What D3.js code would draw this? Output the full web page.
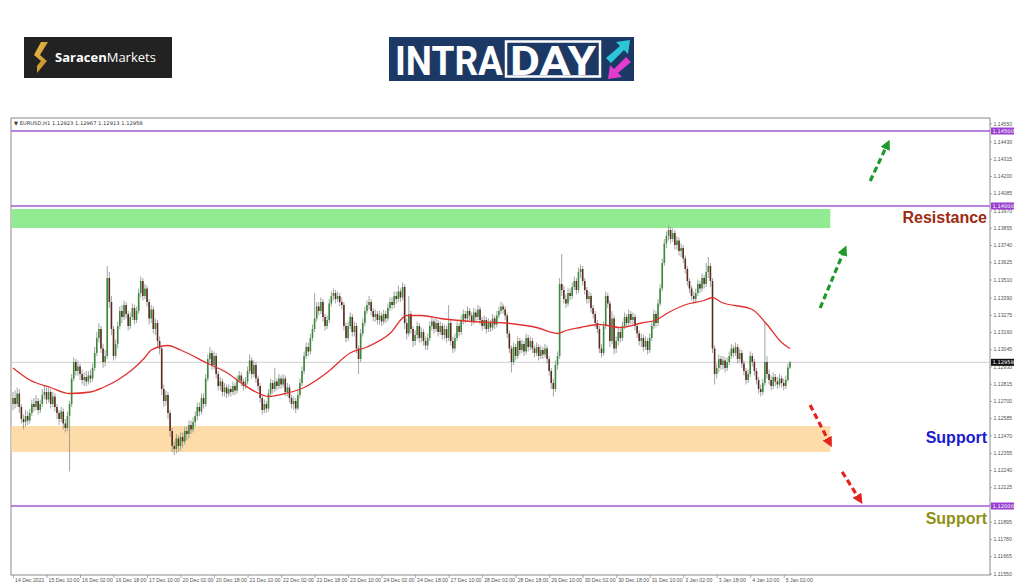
<!DOCTYPE html>
<html>
<head>
<meta charset="utf-8">
<script src="https://cdnjs.cloudflare.com/ajax/libs/d3/7.8.5/d3.min.js"></script>
<style>
  body { margin: 0; background: #fff; }
  svg { display: block; font-family: "DejaVu Sans", "Liberation Sans", sans-serif; }
  .axis text { font-size: 5.2px; fill: #555; }
  .axis path, .axis line { stroke: #777; stroke-width: 0.6; }
</style>
</head>
<body>
<div id="chart"></div>
<script>
// EURUSD H1, 14 Dec 2021 -> 5 Jan 2022
var firstOpen = 1.1268;
var closes = [
  1.1272,1.1268,1.1275,1.1266,1.1258,1.1256,1.1260,1.1257,1.1262,1.1268,1.1266,1.1270,1.1264,1.1268,1.1274,1.1276,
  1.1271,1.1276,1.1268,1.1273,1.1266,1.1262,1.1258,1.1263,1.1255,1.1252,1.1260,1.1268,1.1285,1.1296,1.1290,1.1293,
  1.1288,1.1284,1.1286,1.1283,1.1287,1.1285,1.1292,1.1302,1.1312,1.1318,1.1305,1.1296,1.1300,1.1352,1.1336,1.1318,
  1.1300,1.1308,1.1320,1.1330,1.1326,1.1334,1.1328,1.1320,1.1326,1.1332,1.1324,1.1330,1.1342,1.1350,1.1340,1.1345,
  1.1336,1.1325,1.1331,1.1318,1.1322,1.1310,1.1305,1.1278,1.1270,1.1274,1.1262,1.1250,1.1240,1.1238,1.1245,1.1240,
  1.1246,1.1243,1.1250,1.1248,1.1254,1.1251,1.1256,1.1260,1.1266,1.1263,1.1272,1.1268,1.1285,1.1298,1.1302,1.1294,
  1.1300,1.1288,1.1280,1.1283,1.1276,1.1279,1.1275,1.1278,1.1276,1.1280,1.1277,1.1284,1.1287,1.1283,1.1280,1.1283,
  1.1290,1.1297,1.1288,1.1294,1.1285,1.1280,1.1272,1.1264,1.1268,1.1265,1.1275,1.1282,1.1278,1.1283,1.1280,1.1285,
  1.1281,1.1285,1.1276,1.1279,1.1272,1.1268,1.1270,1.1265,1.1274,1.1282,1.1290,1.1300,1.1306,1.1303,1.1312,1.1318,
  1.1325,1.1333,1.1330,1.1336,1.1326,1.1320,1.1324,1.1335,1.1340,1.1342,1.1338,1.1340,1.1336,1.1334,1.1320,1.1312,
  1.1320,1.1326,1.1316,1.1320,1.1305,1.1298,1.1315,1.1322,1.1330,1.1334,1.1336,1.1330,1.1326,1.1328,1.1324,1.1327,
  1.1323,1.1328,1.1325,1.1332,1.1336,1.1334,1.1340,1.1338,1.1343,1.1339,1.1346,1.1322,1.1315,1.1328,1.1318,1.1310,
  1.1314,1.1320,1.1312,1.1316,1.1310,1.1307,1.1312,1.1320,1.1323,1.1318,1.1322,1.1316,1.1320,1.1314,1.1318,1.1312,
  1.1322,1.1310,1.1305,1.1312,1.1320,1.1316,1.1324,1.1328,1.1325,1.1330,1.1327,1.1323,1.1329,1.1326,1.1331,1.1324,
  1.1320,1.1324,1.1318,1.1322,1.1319,1.1325,1.1321,1.1327,1.1330,1.1333,1.1331,1.1327,1.1315,1.1305,1.1296,1.1306,
  1.1300,1.1310,1.1304,1.1308,1.1303,1.1312,1.1306,1.1310,1.1305,1.1302,1.1306,1.1300,1.1304,1.1301,1.1305,1.1298,
  1.1290,1.1282,1.1278,1.1294,1.1300,1.1348,1.1344,1.1338,1.1335,1.1342,1.1340,1.1346,1.1350,1.1344,1.1356,1.1358,
  1.1350,1.1344,1.1338,1.1340,1.1332,1.1328,1.1322,1.1318,1.1305,1.1302,1.1320,1.1340,1.1335,1.1310,1.1325,1.1305,
  1.1310,1.1316,1.1312,1.1320,1.1326,1.1322,1.1328,1.1324,1.1326,1.1320,1.1315,1.1310,1.1312,1.1306,1.1310,1.1304,
  1.1312,1.1320,1.1328,1.1322,1.1335,1.1345,1.1362,1.1375,1.1380,1.1384,1.1378,1.1382,1.1374,1.1377,1.1370,1.1372,
  1.1365,1.1358,1.1350,1.1345,1.1340,1.1338,1.1342,1.1348,1.1345,1.1352,1.1348,1.1356,1.1360,1.1350,1.1305,1.1288,
  1.1292,1.1298,1.1294,1.1297,1.1292,1.1296,1.1300,1.1305,1.1302,1.1306,1.1298,1.1302,1.1295,1.1290,1.1284,1.1288,
  1.1300,1.1296,1.1290,1.1284,1.1278,1.1276,1.1282,1.1296,1.1288,1.1284,1.1280,1.1286,1.1283,1.1281,1.1285,1.1282,
  1.1280,1.1284,1.12923,1.12958
];
var highs = [
  1.1276,1.1277,1.1279,1.1278,1.1268,1.1261,1.1264,1.1263,1.1265,1.1271,1.1272,1.1274,1.1272,1.1271,1.1278,1.1280,
  1.1279,1.1279,1.1278,1.1276,1.1275,1.1268,1.1264,1.1266,1.1265,1.1258,1.1263,1.1270,1.1288,1.1299,1.1298,1.1297,
  1.1295,1.1291,1.1289,1.1290,1.1290,1.1291,1.1295,1.1306,1.1316,1.1322,1.1320,1.1308,1.1304,1.1360,1.1356,1.1340,
  1.1320,1.1311,1.1323,1.1333,1.1334,1.1337,1.1336,1.1330,1.1329,1.1335,1.1334,1.1333,1.1345,1.1353,1.1352,1.1348,
  1.1347,1.1338,1.1334,1.1333,1.1325,1.1324,1.1313,1.1307,1.1281,1.1277,1.1276,1.1264,1.1252,1.1243,1.1248,1.1247,
  1.1249,1.1249,1.1253,1.1253,1.1257,1.1257,1.1259,1.1263,1.1269,1.1269,1.1275,1.1275,1.1288,1.1301,1.1306,1.1304,
  1.1303,1.1302,1.1290,1.1286,1.1285,1.1282,1.1281,1.1281,1.1280,1.1283,1.1282,1.1287,1.1290,1.1289,1.1285,1.1286,
  1.1293,1.1301,1.1299,1.1297,1.1296,1.1287,1.1282,1.1274,1.1271,1.1270,1.1278,1.1285,1.1284,1.1292,1.1285,1.1288,
  1.1287,1.1288,1.1287,1.1282,1.1281,1.1274,1.1273,1.1272,1.1277,1.1285,1.1293,1.1303,1.1309,1.1309,1.1315,1.1321,
  1.1342,1.1336,1.1336,1.1339,1.1338,1.1328,1.1327,1.1338,1.1343,1.1345,1.1344,1.1343,1.1342,1.1339,1.1336,1.1322,
  1.1323,1.1329,1.1328,1.1323,1.1322,1.1307,1.1318,1.1325,1.1333,1.1337,1.1340,1.1338,1.1332,1.1331,1.1330,1.1330,
  1.1329,1.1331,1.1330,1.1335,1.1339,1.1339,1.1343,1.1343,1.1347,1.1345,1.1349,1.1348,1.1325,1.1340,1.1330,1.1320,
  1.1317,1.1323,1.1322,1.1319,1.1318,1.1313,1.1315,1.1323,1.1326,1.1325,1.1325,1.1324,1.1323,1.1322,1.1321,1.1320,
  1.1334,1.1324,1.1313,1.1315,1.1323,1.1322,1.1327,1.1331,1.1330,1.1333,1.1332,1.1329,1.1332,1.1331,1.1334,1.1333,
  1.1326,1.1327,1.1326,1.1325,1.1324,1.1328,1.1327,1.1330,1.1333,1.1336,1.1335,1.1333,1.1329,1.1317,1.1307,1.1309,
  1.1308,1.1313,1.1312,1.1311,1.1310,1.1315,1.1314,1.1313,1.1312,1.1307,1.1309,1.1308,1.1307,1.1306,1.1308,1.1307,
  1.1300,1.1292,1.1285,1.1297,1.1303,1.1352,1.1368,1.1347,1.1341,1.1345,1.1345,1.1349,1.1353,1.1352,1.1359,1.1361,
  1.1360,1.1352,1.1346,1.1343,1.1342,1.1334,1.1330,1.1324,1.1320,1.1308,1.1323,1.1343,1.1342,1.1337,1.1330,1.1327,
  1.1313,1.1319,1.1318,1.1323,1.1329,1.1328,1.1331,1.1330,1.1329,1.1328,1.1322,1.1317,1.1315,1.1314,1.1313,1.1312,
  1.1315,1.1323,1.1331,1.1330,1.1338,1.1348,1.1365,1.1378,1.1383,1.1387,1.1386,1.1385,1.1384,1.1380,1.1379,1.1375,
  1.1374,1.1367,1.1360,1.1352,1.1347,1.1343,1.1345,1.1351,1.1350,1.1355,1.1354,1.1362,1.1366,1.1362,1.1352,1.1307,
  1.1295,1.1301,1.1300,1.1300,1.1299,1.1299,1.1303,1.1308,1.1307,1.1309,1.1308,1.1305,1.1304,1.1297,1.1292,1.1291,
  1.1303,1.1302,1.1298,1.1292,1.1286,1.1281,1.1285,1.1323,1.1300,1.1291,1.1287,1.1289,1.1288,1.1286,1.1288,1.1287,
  1.1285,1.1287,1.1295,1.12967
];
var lows = [
  1.1264,1.1265,1.1266,1.1262,1.1255,1.1251,1.1253,1.1254,1.1255,1.1260,1.1263,1.1264,1.1261,1.1262,1.1266,1.1271,
  1.1268,1.1269,1.1265,1.1266,1.1263,1.1258,1.1254,1.1256,1.1251,1.1249,1.1250,1.1223,1.1266,1.1283,1.1287,1.1287,
  1.1284,1.1281,1.1280,1.1280,1.1281,1.1282,1.1283,1.1290,1.1300,1.1309,1.1302,1.1292,1.1293,1.1298,1.1332,1.1314,
  1.1297,1.1298,1.1305,1.1318,1.1322,1.1324,1.1325,1.1317,1.1318,1.1324,1.1321,1.1322,1.1328,1.1339,1.1337,1.1338,
  1.1333,1.1321,1.1322,1.1315,1.1314,1.1306,1.1301,1.1274,1.1266,1.1267,1.1258,1.1246,1.1236,1.1234,1.1235,1.1236,
  1.1237,1.1239,1.1241,1.1244,1.1245,1.1248,1.1249,1.1253,1.1257,1.1260,1.1261,1.1265,1.1266,1.1283,1.1295,1.1291,
  1.1291,1.1285,1.1277,1.1277,1.1273,1.1273,1.1272,1.1273,1.1273,1.1274,1.1274,1.1275,1.1282,1.1280,1.1277,1.1278,
  1.1281,1.1288,1.1285,1.1286,1.1282,1.1277,1.1269,1.1261,1.1262,1.1262,1.1263,1.1273,1.1275,1.1276,1.1277,1.1278,
  1.1278,1.1279,1.1273,1.1273,1.1269,1.1265,1.1264,1.1262,1.1264,1.1272,1.1280,1.1288,1.1298,1.1300,1.1301,1.1310,
  1.1316,1.1323,1.1327,1.1328,1.1323,1.1317,1.1318,1.1322,1.1333,1.1337,1.1335,1.1336,1.1333,1.1331,1.1317,1.1309,
  1.1310,1.1318,1.1313,1.1313,1.1302,1.1288,1.1296,1.1313,1.1320,1.1328,1.1331,1.1327,1.1323,1.1323,1.1321,1.1321,
  1.1320,1.1321,1.1322,1.1323,1.1330,1.1331,1.1332,1.1335,1.1336,1.1336,1.1337,1.1318,1.1311,1.1313,1.1315,1.1306,
  1.1307,1.1311,1.1309,1.1309,1.1307,1.1304,1.1304,1.1310,1.1317,1.1315,1.1316,1.1313,1.1314,1.1311,1.1311,1.1309,
  1.1310,1.1307,1.1302,1.1303,1.1310,1.1313,1.1314,1.1321,1.1322,1.1323,1.1324,1.1320,1.1321,1.1323,1.1324,1.1321,
  1.1317,1.1318,1.1315,1.1316,1.1316,1.1317,1.1318,1.1319,1.1325,1.1328,1.1328,1.1324,1.1312,1.1302,1.1289,1.1294,
  1.1297,1.1298,1.1301,1.1302,1.1300,1.1301,1.1303,1.1304,1.1302,1.1299,1.1300,1.1297,1.1298,1.1298,1.1299,1.1295,
  1.1287,1.1278,1.1273,1.1276,1.1291,1.1298,1.1340,1.1335,1.1332,1.1333,1.1337,1.1338,1.1344,1.1341,1.1342,1.1352,
  1.1347,1.1341,1.1335,1.1335,1.1329,1.1325,1.1319,1.1315,1.1302,1.1299,1.1300,1.1318,1.1332,1.1306,1.1308,1.1301,
  1.1302,1.1307,1.1309,1.1310,1.1318,1.1319,1.1320,1.1321,1.1321,1.1317,1.1312,1.1307,1.1306,1.1303,1.1304,1.1301,
  1.1302,1.1310,1.1318,1.1319,1.1320,1.1333,1.1343,1.1360,1.1372,1.1377,1.1375,1.1376,1.1371,1.1371,1.1367,1.1366,
  1.1362,1.1355,1.1347,1.1342,1.1337,1.1335,1.1335,1.1340,1.1342,1.1343,1.1345,1.1346,1.1352,1.1346,1.1302,1.1281,
  1.1285,1.1289,1.1291,1.1291,1.1289,1.1290,1.1294,1.1298,1.1299,1.1300,1.1295,1.1296,1.1292,1.1287,1.1281,1.1282,
  1.1286,1.1293,1.1287,1.1281,1.1275,1.1273,1.1274,1.1280,1.1285,1.1281,1.1277,1.1278,1.1280,1.1278,1.1279,1.1279,
  1.1277,1.1278,1.1283,1.12913
];

// moving average (red line), read at these bar indices
var maBars   = [0, 8, 18, 27, 37, 43, 50, 57, 63, 66, 74, 80, 93, 102, 109, 116, 122, 130, 139, 150, 161, 169, 180, 188, 195, 204, 219, 235, 250, 260, 264, 271, 280, 290, 300, 307, 313, 323, 330, 334, 338, 353, 360, 367, 371];
var maValues = [1.1292, 1.1284, 1.1279, 1.1275, 1.1276, 1.1279, 1.1284, 1.1291, 1.1299, 1.1304, 1.1307, 1.1304, 1.1295, 1.1289, 1.1282, 1.1276, 1.1273, 1.1275, 1.1279, 1.1289, 1.1302, 1.1306, 1.1315, 1.1327, 1.1327, 1.1325, 1.1323, 1.1322, 1.1319, 1.1315, 1.1317, 1.1319, 1.1321, 1.1319, 1.1322, 1.1324, 1.1329, 1.1335, 1.1337, 1.1339, 1.1336, 1.1331, 1.1321, 1.1309, 1.1305];

var timeLabels = ["14 Dec 2021","15 Dec 10:00","16 Dec 02:00","16 Dec 18:00","17 Dec 10:00","20 Dec 02:00","20 Dec 18:00","21 Dec 10:00","22 Dec 02:00","22 Dec 18:00","23 Dec 10:00","24 Dec 02:00","24 Dec 18:00","27 Dec 10:00","28 Dec 02:00","28 Dec 18:00","29 Dec 10:00","30 Dec 02:00","30 Dec 18:00","31 Dec 10:00","3 Jan 02:00","3 Jan 18:00","4 Jan 10:00","5 Jan 02:00"];
var barsPerLabel = 16;
var priceTicks = [1.14550,1.14430,1.14315,1.14200,1.14085,1.13970,1.13855,1.13740,1.13625,1.13510,1.13390,1.13275,1.13160,1.13045,1.12930,1.12815,1.12700,1.12585,1.12470,1.12355,1.12240,1.12125,1.12010,1.11895,1.11780,1.11665,1.11550];

var levels = [1.14500, 1.14000, 1.12000];   // purple horizontal lines
var lastPrice = 1.12958;
var header = "\u25BC EURUSD,H1  1.12923 1.12967 1.12913 1.12958";

// zones: [top, bottom, last bar]
var resistanceZone = [1.13980, 1.13853, 390];
var supportZone = [1.12533, 1.12360, 390];

// arrows: [bar from, price from, bar to, price to]
var upArrows = [[409.3, 1.14167, 416.9, 1.14393], [385.4, 1.13320, 396.4, 1.13687]];
var downArrows = [[380.6, 1.12673, 389.2, 1.12440], [395.9, 1.12227, 403.5, 1.12060]];

var notes = [
  {text: "Resistance", price: 1.13927, color: "#9c2a12"},
  {text: "Support", price: 1.12460, color: "#1a1ad0"},
  {text: "Support", price: 1.11920, color: "#8f8f14"}
];

var width = 1024, height = 587;
var frame = {left: 11, top: 118, right: 990, bottom: 575};

var svg = d3.select("#chart").append("svg").attr("width", width).attr("height", height);

var x = d3.scaleLinear().domain([0, closes.length - 1]).range([13, 790]);
var y = d3.scaleLinear().domain([1.12, 1.14]).range([506, 206]);

var bars = closes.map(function(c, i) {
  return {i: i, open: i === 0 ? firstOpen : closes[i-1], close: c, high: highs[i], low: lows[i]};
});

// ---- logos ----
var logo1 = svg.append("g");
logo1.append("rect").attr("x", 24).attr("y", 37).attr("width", 148).attr("height", 41).attr("fill", "#222");
var gold = svg.append("defs").append("linearGradient").attr("id", "gold").attr("x1", 0).attr("y1", 0).attr("x2", 1).attr("y2", 1);
gold.append("stop").attr("offset", "0%").attr("stop-color", "#f2c14e");
gold.append("stop").attr("offset", "100%").attr("stop-color", "#b8841e");
logo1.append("path").attr("d", "M41,42 L48,42 L40,55 L47,61 L37,73 L37,66 L41,61 L34,55 Z").attr("fill", "url(#gold)");
var t1 = logo1.append("text").attr("x", 55).attr("y", 62).attr("fill", "#fff")
  .style("font-family", "'Open Sans', sans-serif").style("font-size", "13px");
t1.append("tspan").attr("font-weight", "bold").text("Saracen");
t1.append("tspan").attr("font-weight", "normal").text("Markets");

var logo2 = svg.append("g");
logo2.append("rect").attr("x", 389).attr("y", 37).attr("width", 245).attr("height", 44).attr("fill", "#1c3966");
logo2.append("text").attr("x", 395).attr("y", 75).attr("fill", "#fff")
  .attr("textLength", 108).attr("lengthAdjust", "spacingAndGlyphs")
  .style("font-family", "Roboto, sans-serif").style("font-weight", "bold").style("font-size", "40px").text("INTRA");
logo2.append("rect").attr("x", 506).attr("y", 41.5).attr("width", 94).attr("height", 35)
  .attr("fill", "none").attr("stroke", "#fff").attr("stroke-width", 2.5);
logo2.append("text").attr("x", 510).attr("y", 75).attr("fill", "#fff")
  .attr("textLength", 86).attr("lengthAdjust", "spacingAndGlyphs")
  .style("font-family", "Roboto, sans-serif").style("font-weight", "bold").style("font-size", "40px").text("DAY");
logo2.append("path").attr("d", "M606,58 L620,46 L616,42 L630,40 L628,54 L624,50 L611,63 Z").attr("fill", "#2cc6d6");
logo2.append("path").attr("d", "M631,62 L618,73 L622,77 L608,79 L610,65 L614,69 L626,57 Z").attr("fill", "#e23bd0");

// ---- chart frame ----
svg.append("rect").attr("x", frame.left).attr("y", frame.top)
  .attr("width", frame.right - frame.left).attr("height", frame.bottom - frame.top)
  .attr("fill", "#fff").attr("stroke", "#8a8a8a").attr("stroke-width", 1);

var plot = svg.append("g");

// zones
plot.append("rect").attr("x", frame.left + 0.5).attr("y", y(resistanceZone[0]))
  .attr("width", x(resistanceZone[2]) - frame.left).attr("height", y(resistanceZone[1]) - y(resistanceZone[0]))
  .attr("fill", "#92ea92");
plot.append("rect").attr("x", frame.left + 0.5).attr("y", y(supportZone[0]))
  .attr("width", x(supportZone[2]) - frame.left).attr("height", y(supportZone[1]) - y(supportZone[0]))
  .attr("fill", "#fddcaa");

// current price line
plot.append("line").attr("x1", frame.left).attr("x2", frame.right)
  .attr("y1", y(lastPrice)).attr("y2", y(lastPrice)).attr("stroke", "#cfcfcf").attr("stroke-width", 1);

// level lines
plot.selectAll(".level").data(levels).enter().append("line")
  .attr("class", "level")
  .attr("x1", frame.left).attr("x2", frame.right)
  .attr("y1", function(d) { return y(d); }).attr("y2", function(d) { return y(d); })
  .attr("stroke", "#a35ad0").attr("stroke-width", 1.6);

// candles
var bullColor = "#3a8a3a", bearColor = "#5a2a22";
var candle = plot.selectAll(".candle").data(bars).enter().append("g").attr("class", "candle");
candle.append("line")
  .attr("x1", function(d) { return x(d.i); }).attr("x2", function(d) { return x(d.i); })
  .attr("y1", function(d) { return y(d.high); }).attr("y2", function(d) { return y(d.low); })
  .attr("stroke", "#8d8d8d").attr("stroke-width", 0.8);
candle.append("rect")
  .attr("x", function(d) { return x(d.i) - 0.8; })
  .attr("width", 1.6)
  .attr("y", function(d) { return y(Math.max(d.open, d.close)); })
  .attr("height", function(d) { return Math.max(0.8, Math.abs(y(d.open) - y(d.close))); })
  .attr("fill", function(d) { return d.close >= d.open ? bullColor : bearColor; });

// moving average
var ma = maBars.map(function(b, k) { return [b, maValues[k]]; });
plot.append("path").datum(ma)
  .attr("fill", "none").attr("stroke", "#e0302e").attr("stroke-width", 1.3)
  .attr("d", d3.line().x(function(d) { return x(d[0]); }).y(function(d) { return y(d[1]); }).curve(d3.curveMonotoneX));

// arrows
var defs = svg.select("defs");
function marker(id, color) {
  defs.append("marker").attr("id", id).attr("viewBox", "0 0 10 10").attr("refX", 2).attr("refY", 5)
    .attr("markerWidth", 3.2).attr("markerHeight", 3.2).attr("orient", "auto")
    .append("path").attr("d", "M0,0 L10,5 L0,10 Z").attr("fill", color);
}
marker("headUp", "#1f9a2a");
marker("headDown", "#e32222");
function drawArrows(list, color, head) {
  plot.selectAll(".a-" + head).data(list).enter().append("line")
    .attr("x1", function(d) { return x(d[0]); }).attr("y1", function(d) { return y(d[1]); })
    .attr("x2", function(d) { return x(d[2]); }).attr("y2", function(d) { return y(d[3]); })
    .attr("stroke", color).attr("stroke-width", 3.2).attr("stroke-dasharray", "6,3.5")
    .attr("marker-end", "url(#" + head + ")");
}
drawArrows(upArrows, "#1f9a2a", "headUp");
drawArrows(downArrows, "#e32222", "headDown");

// notes
plot.selectAll(".note").data(notes).enter().append("text")
  .attr("x", frame.right - 3).attr("y", function(d) { return y(d.price); })
  .attr("dy", "0.35em").attr("text-anchor", "end")
  .attr("fill", function(d) { return d.color; })
  .style("font-family", "'Liberation Sans', Arial, sans-serif").style("font-weight", "bold").style("font-size", "16px")
  .text(function(d) { return d.text; });

// header
svg.append("text").attr("x", frame.left + 3).attr("y", frame.top + 7)
  .style("font-size", "5.2px").attr("fill", "#333").text(header);

// price axis
var yAxis = svg.append("g").attr("class", "axis").attr("transform", "translate(" + frame.right + ",0)")
  .call(d3.axisRight(y).tickValues(priceTicks).tickSize(2).tickPadding(1.5).tickFormat(d3.format(".5f")));
yAxis.select(".domain").remove();

// time axis
var tickBars = timeLabels.map(function(t, k) { return k * barsPerLabel; });
var xAxis = svg.append("g").attr("class", "axis").attr("transform", "translate(0," + frame.bottom + ")")
  .call(d3.axisBottom(x).tickValues(tickBars).tickSize(3).tickFormat(function(d, k) { return timeLabels[k]; }));
xAxis.select(".domain").remove();
xAxis.selectAll("text").attr("text-anchor", "start").attr("dx", "1.5px").attr("y", 3);

// price tags on axis
var tags = levels.map(function(l) { return {p: l, c: "#9a3fd0"}; }).concat([{p: lastPrice, c: "#111"}]);
var tag = svg.selectAll(".tag").data(tags).enter().append("g").attr("class", "tag");
tag.append("rect").attr("x", frame.right + 1).attr("y", function(d) { return y(d.p) - 3.5; })
  .attr("width", 23).attr("height", 7).attr("fill", function(d) { return d.c; });
tag.append("text").attr("x", frame.right + 2.5).attr("y", function(d) { return y(d.p); }).attr("dy", "0.35em")
  .style("font-size", "5.2px").attr("fill", "#fff").text(function(d) { return d3.format(".5f")(d.p); });
</script>
</body>
</html>
